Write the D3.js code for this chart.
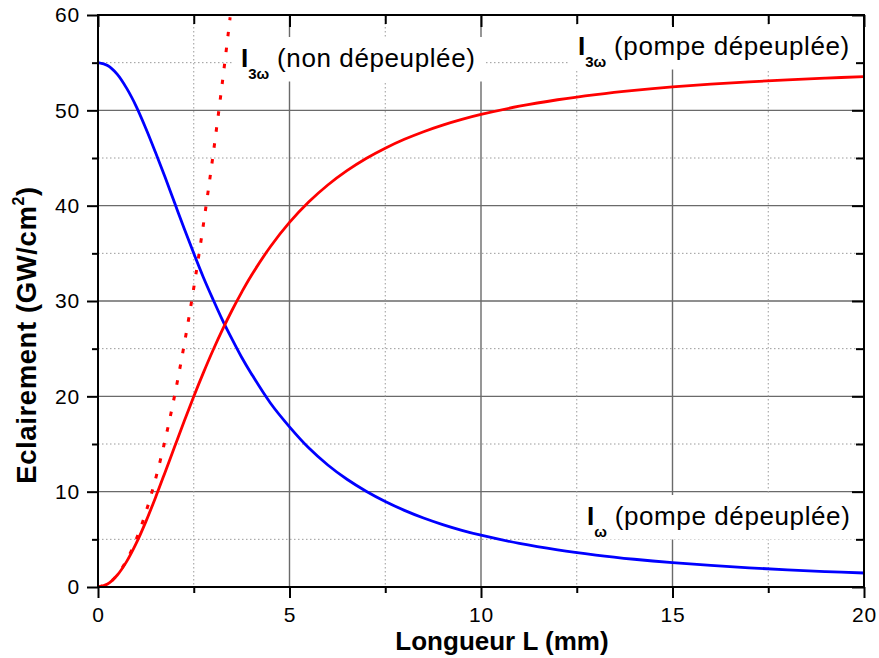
<!DOCTYPE html>
<html>
<head>
<meta charset="utf-8">
<script src="https://cdn.jsdelivr.net/npm/d3@7/dist/d3.min.js"></script>
<style>
  body { margin: 0; background: #fff; }
  svg { display: block; }
  text { font-family: "Liberation Sans", Arial, Helvetica, sans-serif; fill: #000; }
</style>
</head>
<body>
<svg id="chart" width="879" height="658"></svg>
<script>
// Crystal length (mm) sampled along the depleted-pump curves
const lengthMM = [0, 0.25, 0.5, 0.75, 1, 1.25, 1.5, 1.75, 2, 2.25, 2.5, 2.75, 3, 3.25, 3.5, 3.75, 4,
                  4.5, 5, 5.5, 6, 6.5, 7, 7.5, 8, 8.5, 9, 9.5, 10, 11, 12, 13, 14, 15, 16, 17, 18, 19, 20];
// Fundamental intensity I_ω with pump depletion (GW/cm²)
const pumpIntensity = [55, 54.7, 53.8, 52.3, 50.4, 48.1, 45.6, 43.0, 40.3, 37.6, 35.0, 32.5, 30.2, 28.0, 26.0, 24.1, 22.4,
                       19.3, 16.8, 14.6, 12.8, 11.3, 10.05, 8.97, 8.04, 7.24, 6.55, 5.95, 5.43, 4.57, 3.89, 3.35, 2.91, 2.55, 2.26, 2.01, 1.80, 1.62, 1.47];
// Third-harmonic intensity I_3ω with pump depletion (GW/cm²)
const thirdDepleted = [0, 0.31, 1.23, 2.69, 4.6, 6.86, 9.37, 12.02, 14.71, 17.38, 19.98, 22.46, 24.81, 27.0, 29.03, 30.91, 32.65,
                       35.69, 38.24, 40.38, 42.17, 43.67, 44.95, 46.03, 46.96, 47.76, 48.45, 49.05, 49.57, 50.43, 51.11, 51.65, 52.09, 52.45, 52.74, 52.99, 53.2, 53.38, 53.53];
// Third-harmonic intensity without depletion
const undepletedL = [0, 0.25, 0.5, 0.75, 1, 1.25, 1.5, 1.75, 2, 2.25, 2.5, 2.75, 3, 3.25, 3.45];
const thirdUndepleted = [0, 0.31, 1.26, 2.82, 5.02, 7.84, 11.3, 15.37, 20.08, 25.41, 31.37, 37.97, 45.18, 53.03, 59.76];

const xMajor = [0, 5, 10, 15, 20];
const xMinor = [2.5, 7.5, 12.5, 17.5];
const yMajor = [0, 10, 20, 30, 40, 50, 60];
const yMinor = [5, 15, 25, 35, 45, 55];

const svg = d3.select("#chart");
const L = 98, R = 864, T = 15, B = 587;
const x = d3.scaleLinear().domain([0, 20]).range([L, R]);
const y = d3.scaleLinear().domain([0, 60]).range([B, T]);

// Grid
const grid = svg.append("g");
grid.selectAll(".gxm").data(xMajor.filter(v => v > 0 && v < 20)).join("line")
  .attr("x1", d => x(d)).attr("x2", d => x(d)).attr("y1", T).attr("y2", B)
  .attr("stroke", "#6a6a6a").attr("stroke-width", 1.4);
grid.selectAll(".gym").data(yMajor.filter(v => v > 0 && v < 60)).join("line")
  .attr("y1", d => y(d)).attr("y2", d => y(d)).attr("x1", L).attr("x2", R)
  .attr("stroke", "#6a6a6a").attr("stroke-width", 1.4);
grid.selectAll(".gxn").data(xMinor).join("line")
  .attr("x1", d => x(d)).attr("x2", d => x(d)).attr("y1", T).attr("y2", B)
  .attr("stroke", "#9a9a9a").attr("stroke-width", 1).attr("stroke-dasharray", "1.5,2.5");
grid.selectAll(".gyn").data(yMinor).join("line")
  .attr("y1", d => y(d)).attr("y2", d => y(d)).attr("x1", L).attr("x2", R)
  .attr("stroke", "#9a9a9a").attr("stroke-width", 1).attr("stroke-dasharray", "1.5,2.5");

// Curve labels with white backgrounds
const labelLayer = svg.append("g");
function curveLabel(px, py, sub, rest) {
  const g = labelLayer.append("g");
  const t = g.append("text").attr("x", px).attr("y", py).attr("font-size", 26);
  t.append("tspan").attr("font-weight", "bold").attr("font-size", 26).text("I");
  t.append("tspan").attr("font-weight", "bold").attr("font-size", 15).attr("dy", 11.5).text(sub);
  t.append("tspan").attr("dy", -11.5).attr("letter-spacing", 0.6).text(" " + rest);
  const bb = t.node().getBBox();
  g.insert("rect", "text").attr("x", bb.x - 9).attr("y", bb.y - 6)
    .attr("width", bb.width + 18).attr("height", bb.height + 6).attr("fill", "#fff");
}
curveLabel(241, 67, "3\u03c9", "(non dépeuplée)");
curveLabel(578, 55, "3\u03c9", "(pompe dépeuplée)");
curveLabel(587, 525, "\u03c9", "(pompe dépeuplée)");

// Curves
const plot = svg.append("g");
svg.append("clipPath").attr("id", "clip").append("rect")
  .attr("x", L).attr("y", T).attr("width", R - L).attr("height", B - T);
plot.attr("clip-path", "url(#clip)");
const line = d3.line().x(d => x(d[0])).y(d => y(d[1])).curve(d3.curveCatmullRom);

plot.append("path").datum(d3.zip(lengthMM, pumpIntensity)).attr("d", line)
  .attr("fill", "none").attr("stroke", "#0000ff").attr("stroke-width", 2.8);
plot.append("path").datum(d3.zip(lengthMM, thirdDepleted)).attr("d", line)
  .attr("fill", "none").attr("stroke", "#ff0000").attr("stroke-width", 2.8);
plot.append("path").datum(d3.zip(undepletedL, thirdUndepleted)).attr("d", line)
  .attr("fill", "none").attr("stroke", "#ff0000").attr("stroke-width", 3)
  .attr("stroke-dasharray", "4.5,11.5");

// Axes and ticks
function styleAxis(g) {
  g.select(".domain").remove();
  g.selectAll(".tick line").attr("stroke", "#000").attr("stroke-width", 2);
  g.selectAll("text").attr("font-size", 21).attr("letter-spacing", 0.8)
    .attr("font-family", "'Liberation Sans', Arial, sans-serif").attr("fill", "#000");
}
svg.append("g").attr("transform", `translate(0,${B})`)
  .call(d3.axisBottom(x).tickValues(xMajor).tickSize(11).tickPadding(9).tickFormat(d3.format("d"))).call(styleAxis);
svg.append("g").attr("transform", `translate(0,${B})`)
  .call(d3.axisBottom(x).tickValues(xMinor).tickSize(6).tickFormat("")).call(styleAxis);
svg.append("g").attr("transform", `translate(${L},0)`)
  .call(d3.axisLeft(y).tickValues(yMajor).tickSize(11).tickPadding(7).tickFormat(d3.format("d"))).call(styleAxis);
svg.append("g").attr("transform", `translate(${L},0)`)
  .call(d3.axisLeft(y).tickValues(yMinor).tickSize(6).tickFormat("")).call(styleAxis);
// inward ticks on top and right edges
svg.append("g").attr("transform", `translate(0,${T})`)
  .call(d3.axisBottom(x).tickValues(xMajor).tickSize(12).tickFormat("")).call(styleAxis);
svg.append("g").attr("transform", `translate(0,${T})`)
  .call(d3.axisBottom(x).tickValues(xMinor).tickSize(9).tickFormat("")).call(styleAxis);
svg.append("g").attr("transform", `translate(${R},0)`)
  .call(d3.axisLeft(y).tickValues(yMajor).tickSize(12).tickFormat("")).call(styleAxis);
svg.append("g").attr("transform", `translate(${R},0)`)
  .call(d3.axisLeft(y).tickValues(yMinor).tickSize(8).tickFormat("")).call(styleAxis);

// Frame
svg.append("rect").attr("x", L).attr("y", T).attr("width", R - L).attr("height", B - T)
  .attr("fill", "none").attr("stroke", "#000").attr("stroke-width", 2);

// Axis titles
svg.append("text").attr("x", 502).attr("y", 650).attr("text-anchor", "middle")
  .attr("font-weight", "bold").attr("font-size", 26).text("Longueur L (mm)");
const yt = svg.append("text").attr("transform", "translate(36,335) rotate(-90)")
  .attr("text-anchor", "middle").attr("font-weight", "bold").attr("font-size", 27.5)
  .attr("letter-spacing", 0.6);
yt.append("tspan").text("Eclairement (GW/cm");
yt.append("tspan").attr("font-size", 16).attr("dy", -12).text("2");
yt.append("tspan").attr("dy", 12).text(")");
</script>
</body>
</html>
